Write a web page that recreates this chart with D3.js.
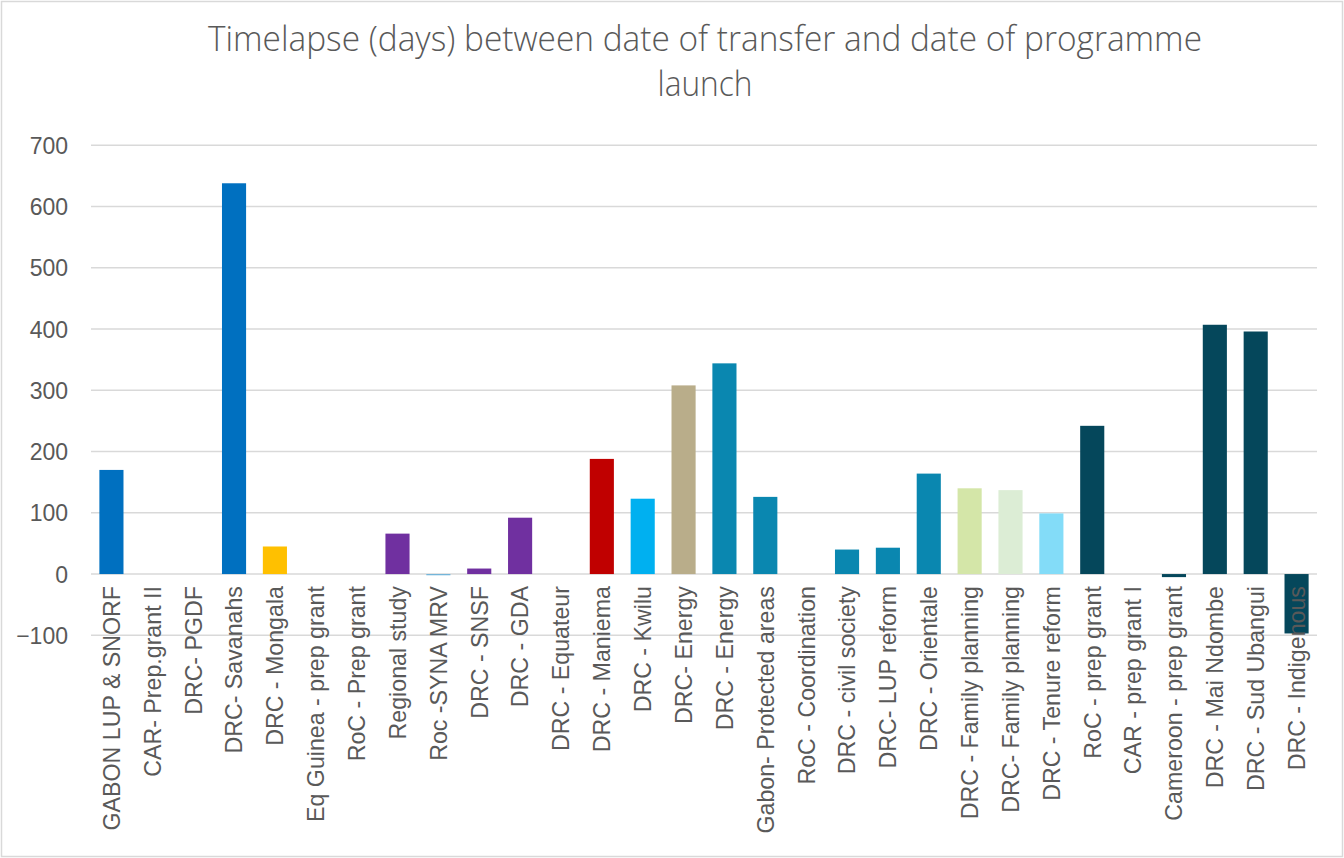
<!DOCTYPE html>
<html>
<head>
<meta charset="utf-8">
<script src="https://cdn.jsdelivr.net/npm/d3@7/dist/d3.min.js"></script>
<style>
  html, body { margin: 0; padding: 0; background: #ffffff; }
  svg { display: block; }
</style>
</head>
<body>
<svg id="chart" width="1344" height="858"></svg>
<script>
const titleLines = ["Timelapse (days) between date of transfer and date of programme", "launch"];

const categories = [
  "GABON LUP & SNORF", "CAR- Prep.grant II", "DRC- PGDF", "DRC- Savanahs", "DRC - Mongala",
  "Eq Guinea - prep grant", "RoC - Prep grant", "Regional study", "Roc -SYNA MRV", "DRC - SNSF",
  "DRC - GDA", "DRC - Equateur", "DRC - Maniema", "DRC - Kwilu", "DRC- Energy",
  "DRC - Energy", "Gabon- Protected areas", "RoC - Coordination", "DRC - civil society", "DRC- LUP reform",
  "DRC - Orientale", "DRC - Family planning", "DRC- Family planning", "DRC - Tenure reform", "RoC  - prep grant",
  "CAR - prep grant I", "Cameroon - prep grant", "DRC - Mai Ndombe", "DRC - Sud Ubangui", "DRC - Indigenous"
];

const values = [
  170, 0, 0, 638, 45,
  0, 0, 66, -2, 9,
  92, 0, 188, 123, 308,
  344, 126, 0, 40, 43,
  164, 140, 137, 99, 242,
  0, -5, 407, 396, -97
];

const barColors = [
  "#0070c0", "#0070c0", "#0070c0", "#0070c0", "#ffc000",
  "#7030a0", "#7030a0", "#7030a0", "#6fb3d9", "#7030a0",
  "#7030a0", "#c00000", "#c00000", "#00b0f0", "#b9ad8a",
  "#0a87b0", "#0a87b0", "#0a87b0", "#0a87b0", "#0a87b0",
  "#0a87b0", "#d4e6a8", "#dcedd5", "#83dcf8", "#05475b",
  "#05475b", "#05475b", "#05475b", "#05475b", "#05475b"
];

const yTicks = [-100, 0, 100, 200, 300, 400, 500, 600, 700];

const W = 1344, H = 858;
const svg = d3.select("#chart");

// chart border
svg.append("rect")
  .attr("x", 1.5).attr("y", 1.5)
  .attr("width", W - 3).attr("height", H - 3)
  .attr("fill", "#ffffff")
  .attr("stroke", "#d9d9d9").attr("stroke-width", 1.5);

const plotLeft = 91, plotRight = 1317;
const x = d3.scaleBand()
  .domain(categories)
  .range([plotLeft, plotRight])
  .paddingInner(0.41)
  .paddingOuter(0.205);

const y = d3.scaleLinear()
  .domain([-100, 700])
  .range([635.3, 145.3]);

// gridlines
svg.append("g")
  .selectAll("line")
  .data(yTicks)
  .join("line")
  .attr("x1", plotLeft).attr("x2", plotRight)
  .attr("y1", d => y(d)).attr("y2", d => y(d))
  .attr("stroke", "#d9d9d9").attr("stroke-width", 1.5);

// y axis labels
const yAxis = d3.axisLeft(y).tickValues(yTicks).tickSize(0).tickPadding(0);
const yg = svg.append("g").attr("transform", "translate(68,0)").call(yAxis);
yg.select(".domain").remove();
yg.selectAll("text")
  .attr("font-family", "'Liberation Sans', Arial, sans-serif")
  .attr("font-size", "23px")
  .attr("fill", "#595959")
  .attr("dy", "0.35em");

// bars
svg.append("g")
  .selectAll("rect")
  .data(categories)
  .join("rect")
  .attr("x", d => x(d))
  .attr("width", x.bandwidth())
  .attr("y", (d, i) => y(Math.max(0, values[i])))
  .attr("height", (d, i) => Math.abs(y(values[i]) - y(0)))
  .attr("fill", (d, i) => barColors[i]);

// category labels
const xAxis = d3.axisBottom(x).tickSize(0).tickPadding(0);
const xg = svg.append("g").attr("transform", `translate(0,${y(0)})`).call(xAxis);
xg.select(".domain").remove();
xg.selectAll("text")
  .attr("font-family", "'Liberation Sans', Arial, sans-serif")
  .attr("font-size", "23.2px")
  .attr("fill", "#595959")
  .attr("transform", "rotate(-90)")
  .attr("text-anchor", "end")
  .attr("x", -12)
  .attr("y", 0)
  .attr("dy", "0.36em");

// title
const title = svg.append("g")
  .attr("font-family", "'Open Sans', 'Liberation Sans', sans-serif")
  .attr("font-weight", 300)
  .attr("font-size", "34px")
  .attr("fill", "#595959")
  .attr("text-anchor", "middle");
title.append("text")
  .attr("x", 705).attr("y", 51)
  .attr("textLength", 994)
  .attr("lengthAdjust", "spacingAndGlyphs")
  .text(titleLines[0]);
title.append("text")
  .attr("x", 705).attr("y", 96)
  .attr("textLength", 95)
  .attr("lengthAdjust", "spacingAndGlyphs")
  .text(titleLines[1]);
</script>
</body>
</html>
